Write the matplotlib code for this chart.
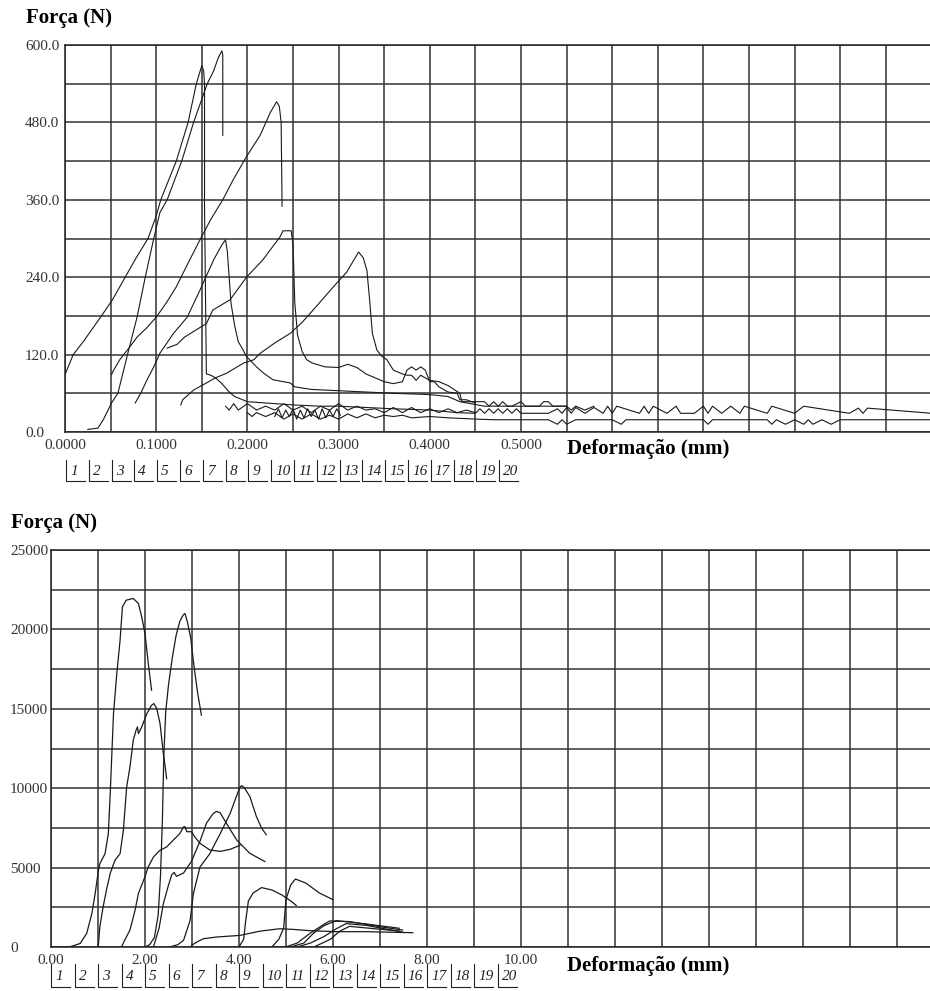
import numpy as np
import matplotlib
matplotlib.use('Agg')
import matplotlib.pyplot as plt
from matplotlib.lines import Line2D

# ---------------- top chart data (Deformação mm, Força N) ----------------
a_x = [0.000, 0.009, 0.020, 0.030, 0.040, 0.052, 0.066, 0.078, 0.091, 0.100, 0.105, 0.122, 0.135,
       0.144, 0.150, 0.152, 0.153, 0.153, 0.155, 0.160, 0.165, 0.172, 0.180, 0.186, 0.200, 0.220,
       0.250, 0.280, 0.300, 0.330, 0.360, 0.400, 0.430]
a_y = [89, 120, 140, 160, 180, 205, 240, 270, 300, 335, 360, 420, 480,
       540, 568, 560, 540, 350, 90, 88, 84, 75, 62, 55, 47, 45,
       42, 40, 40, 38, 36, 34, 30]

b_x = [0.025, 0.036, 0.042, 0.051, 0.058, 0.068, 0.079, 0.088, 0.097, 0.104, 0.112, 0.128, 0.141,
       0.156, 0.163, 0.168, 0.172, 0.173, 0.173]
b_y = [4, 6, 19, 45, 60, 117, 178, 240, 298, 340, 360, 420, 480,
       540, 560, 580, 591, 585, 460]

c_x = [0.051, 0.053, 0.060, 0.070, 0.079, 0.090, 0.100, 0.111, 0.122, 0.135, 0.148, 0.160, 0.173,
       0.184, 0.199, 0.214, 0.225, 0.232, 0.235, 0.237, 0.238]
c_y = [89, 95, 112, 130, 147, 162, 178, 200, 225, 262, 298, 330, 360,
       390, 427, 460, 495, 512, 505, 480, 350]

d_x = [0.077, 0.083, 0.090, 0.097, 0.104, 0.119, 0.134, 0.148, 0.163, 0.172, 0.176, 0.178, 0.180,
       0.182, 0.186, 0.190, 0.195, 0.199, 0.210, 0.218, 0.228, 0.247, 0.252, 0.270, 0.300, 0.330,
       0.360, 0.400, 0.420, 0.433, 0.460, 0.490, 0.500, 0.505, 0.550]
d_y = [45, 60, 81, 100, 122, 153, 178, 220, 267, 290, 298, 280, 240,
       200, 165, 140, 128, 117, 101, 91, 81, 76, 70, 66, 64, 62,
       60, 58, 55, 47, 40, 40, 47, 40, 40]

e_x = [0.127, 0.129, 0.141, 0.155, 0.165, 0.177, 0.196, 0.207, 0.214, 0.230, 0.247, 0.260, 0.272,
       0.285, 0.298, 0.309, 0.316, 0.322, 0.327, 0.331, 0.334, 0.337, 0.342, 0.347, 0.353, 0.360,
       0.370, 0.375, 0.380, 0.385, 0.390, 0.400, 0.410, 0.420, 0.433, 0.435, 0.460, 0.465, 0.470,
       0.475, 0.480, 0.485, 0.490, 0.520, 0.525, 0.530, 0.535, 0.540, 0.550, 0.555, 0.560, 0.570,
       0.580]
e_y = [42, 50, 65, 76, 84, 91, 107, 112, 122, 138, 153, 170, 189,
       210, 231, 248, 265, 279, 270, 251, 205, 153, 127, 118, 112, 96,
       90, 88, 88, 80, 88, 80, 78, 72, 60, 47, 47, 40, 47,
       40, 47, 40, 40, 40, 47, 47, 40, 40, 40, 34, 40, 34,
       40]

f_x = [0.112, 0.123, 0.131, 0.148, 0.155, 0.162, 0.181, 0.199, 0.217, 0.236, 0.239, 0.248, 0.250,
       0.252, 0.255, 0.260, 0.265, 0.271, 0.285, 0.300, 0.310, 0.320, 0.330, 0.350, 0.360, 0.370,
       0.375, 0.380, 0.385, 0.390, 0.395, 0.400, 0.405, 0.410, 0.420, 0.430, 0.433, 0.440, 0.450]
f_y = [130, 136, 147, 162, 168, 189, 205, 240, 267, 303, 312, 312, 290,
       200, 150, 125, 112, 107, 101, 100, 105, 100, 90, 78, 75, 78,
       96, 101, 96, 101, 96, 78, 78, 70, 62, 60, 50, 50, 45]

low1_x = [0.176, 0.180, 0.185, 0.190, 0.200, 0.210, 0.220, 0.230, 0.240, 0.250, 0.260, 0.270, 0.280,
          0.290, 0.300, 0.310, 0.320, 0.330, 0.340, 0.350, 0.360, 0.370, 0.380, 0.390, 0.400, 0.410,
          0.420, 0.430, 0.440, 0.450]
low1_y = [40, 34, 44, 34, 44, 34, 40, 34, 44, 34, 40, 30, 40,
          34, 44, 34, 40, 34, 36, 30, 38, 30, 38, 30, 36, 30,
          36, 30, 34, 30]

# dense noisy stretch near the bottom (black band in the picture)
low2_x = [0.230, 0.234, 0.238, 0.242, 0.246, 0.250, 0.254, 0.258, 0.262, 0.266, 0.270, 0.274, 0.278,
          0.282, 0.286, 0.290, 0.294, 0.298, 0.302]
low2_y = [24, 36, 22, 34, 24, 36, 20, 34, 22, 36, 24, 34, 20, 36, 22, 34, 24, 36, 26]

# long tail, upper (about 29 N)
tail_u_x = [0.430, 0.450, 0.455, 0.460, 0.465, 0.470, 0.475, 0.480, 0.485, 0.490, 0.495, 0.500, 0.530,
            0.540, 0.545, 0.550, 0.555, 0.560, 0.570, 0.580, 0.590, 0.595, 0.600, 0.605, 0.630, 0.635,
            0.640, 0.645, 0.660, 0.670, 0.675, 0.690, 0.700, 0.705, 0.710, 0.720, 0.730, 0.740, 0.745,
            0.770, 0.775, 0.800, 0.810, 0.860, 0.870, 0.875, 0.880, 0.950]
tail_u_y = [30, 29, 36, 29, 36, 29, 36, 29, 36, 29, 36, 29, 29,
            36, 29, 38, 29, 38, 29, 38, 29, 40, 29, 40, 29, 40,
            29, 40, 29, 40, 29, 29, 40, 29, 40, 29, 40, 29, 40,
            29, 40, 29, 40, 29, 37, 29, 37, 29]

# long tail, lower (about 19 N)
tail_l_x = [0.200, 0.205, 0.210, 0.220, 0.230, 0.240, 0.250, 0.260, 0.270, 0.280, 0.290, 0.300, 0.310,
            0.320, 0.330, 0.340, 0.350, 0.360, 0.370, 0.380, 0.400, 0.420, 0.450, 0.470, 0.530, 0.540,
            0.545, 0.550, 0.560, 0.600, 0.610, 0.615, 0.620, 0.700, 0.705, 0.710, 0.770, 0.775, 0.780,
            0.790, 0.800, 0.810, 0.815, 0.820, 0.830, 0.840, 0.850, 0.950]
tail_l_y = [30, 24, 30, 24, 30, 20, 28, 20, 28, 20, 26, 20, 28,
            22, 28, 22, 26, 24, 26, 22, 24, 22, 20, 19, 19, 12,
            19, 12, 19, 19, 12, 19, 19, 19, 12, 19, 19, 12, 19,
            12, 19, 12, 19, 12, 19, 12, 19, 19]

top_series = [(a_x, a_y), (b_x, b_y), (c_x, c_y), (d_x, d_y), (e_x, e_y), (f_x, f_y),
              (low1_x, low1_y), (low2_x, low2_y), (tail_u_x, tail_u_y), (tail_l_x, tail_l_y)]

top_yticks = [0, 120, 240, 360, 480, 600]
top_ylabels = ['0.0', '120.0', '240.0', '360.0', '480.0', '600.0']
top_xticks = [0.0, 0.1, 0.2, 0.3, 0.4, 0.5]
top_xlabels = ['0.0000', '0.1000', '0.2000', '0.3000', '0.4000', '0.5000']

# ---------------- bottom chart data ----------------
p1_x = [0.0, 0.41, 0.62, 0.76, 0.87, 0.94, 1.01, 1.04, 1.15, 1.22, 1.26, 1.33, 1.40, 1.47, 1.52,
        1.60, 1.75, 1.86, 1.93, 2.00, 2.07, 2.14]
p1_y = [0, 20, 220, 860, 2120, 3380, 4850, 5250, 5880, 7140, 9660, 14700, 17220, 19320, 21420,
        21840, 21950, 21630, 20790, 19740, 17850, 16170]

p2_x = [1.0, 1.01, 1.04, 1.11, 1.18, 1.26, 1.36, 1.47, 1.54, 1.61, 1.68, 1.75, 1.81, 1.84, 1.86,
        1.93, 2.04, 2.14, 2.19, 2.25, 2.32, 2.39, 2.43, 2.46]
p2_y = [0, 200, 1280, 2540, 3590, 4640, 5460, 5880, 7350, 10080, 11340, 13020, 13650, 13860, 13440,
        13860, 14700, 15225, 15330, 15015, 14070, 12180, 11340, 10600]

p3_x = [1.50, 1.57, 1.68, 1.79, 1.86, 1.93, 2.00, 2.07, 2.18, 2.32, 2.46, 2.60, 2.74, 2.82, 2.85,
        2.89, 2.99, 3.06, 3.17, 3.38, 3.60, 3.81, 4.02]
p3_y = [0, 440, 1070, 2330, 3380, 3900, 4430, 5050, 5670, 6090, 6300, 6720, 7140, 7560, 7580,
        7260, 7260, 6930, 6530, 6110, 6020, 6150, 6400]

p4_x = [2.0, 2.1, 2.2, 2.28, 2.33, 2.37, 2.40, 2.44, 2.50, 2.58, 2.66, 2.74, 2.81, 2.85, 2.90,
        2.97, 3.05, 3.12, 3.20]
p4_y = [0, 150, 600, 2000, 4500, 8000, 12000, 14800, 16500, 18200, 19600, 20500, 20900, 21000, 20500,
        19500, 17500, 16000, 14600]

p5_x = [2.18, 2.30, 2.39, 2.50, 2.57, 2.62, 2.67, 2.82, 2.99, 3.17, 3.31, 3.45, 3.52, 3.60, 3.73,
        3.95, 4.23, 4.55]
p5_y = [0, 1200, 2720, 3900, 4550, 4700, 4450, 4660, 5400, 6660, 7810, 8400, 8540, 8450, 7800,
        6740, 5900, 5380]

p6_x = [2.53, 2.70, 2.82, 2.96, 3.03, 3.17, 3.38, 3.60, 3.81, 4.02, 4.06, 4.12, 4.23, 4.37, 4.48,
        4.58]
p6_y = [0, 150, 420, 1680, 3360, 5040, 5880, 7140, 8400, 10080, 10160, 10000, 9480, 8220, 7490,
        7070]

p7_x = [2.99, 3.10, 3.24, 3.53, 4.02, 4.45, 4.87, 5.15, 5.50, 6.07, 6.71, 7.70]
p7_y = [100, 310, 520, 630, 730, 1000, 1150, 1110, 1030, 965, 965, 900]

p8_x = [4.00, 4.10, 4.14, 4.20, 4.30, 4.48, 4.70, 4.91, 5.12, 5.22]
p8_y = [0, 500, 1600, 2900, 3400, 3740, 3590, 3280, 2860, 2610]

p9_x = [4.70, 4.85, 4.95, 5.00, 5.10, 5.20, 5.42, 5.71, 6.00]
p9_y = [0, 500, 1200, 3000, 3900, 4280, 4030, 3400, 2980]

p10_x = [4.99, 5.24, 5.52, 5.74, 5.93, 6.35, 6.99, 7.48]
p10_y = [0, 250, 880, 1300, 1640, 1600, 1280, 1070]

p11_x = [5.10, 5.38, 5.59, 5.81, 6.07, 6.71, 7.41]
p11_y = [0, 250, 880, 1350, 1660, 1450, 1180]

p12_x = [5.24, 5.52, 5.81, 6.07, 6.28, 6.71, 7.48]
p12_y = [0, 250, 660, 1150, 1470, 1360, 940]

p13_x = [5.59, 5.74, 5.95, 6.14, 6.35, 7.07, 7.41]
p13_y = [0, 200, 500, 990, 1300, 1100, 1000]

bottom_series = [(p1_x, p1_y), (p2_x, p2_y), (p3_x, p3_y), (p4_x, p4_y), (p5_x, p5_y),
                 (p6_x, p6_y), (p7_x, p7_y), (p8_x, p8_y), (p9_x, p9_y), (p10_x, p10_y),
                 (p11_x, p11_y), (p12_x, p12_y), (p13_x, p13_y)]

bot_yticks = [0, 5000, 10000, 15000, 20000, 25000]
bot_ylabels = ['0', '5000', '10000', '15000', '20000', '25000']
bot_xticks = [0, 2, 4, 6, 8, 10]
bot_xlabels = ['0.00', '2.00', '4.00', '6.00', '8.00', '10.00']

legend_labels = [str(i) for i in range(1, 21)]

# ---------------- drawing ----------------
W, H = 930, 991
plt.rcParams['font.family'] = ['Liberation Serif', 'DejaVu Serif']
fig = plt.figure(figsize=(W / 100, H / 100), dpi=100)


def fx(px):
    return px / W


def fy(py):
    return 1 - py / H


def panel(left, top, bottom, xmax, ymax, xgrid, ygrid, xt, xl, yt, yl, label_left, xpad):
    ax = fig.add_axes([fx(left), fy(bottom), (W - left) / W, (bottom - top) / H])
    ax.set_xlim(0, xmax)
    ax.set_ylim(0, ymax)
    ax.set_xticks(xt)
    ax.set_xticklabels(xl)
    ax.set_yticks(yt)
    ax.set_yticklabels(yl)
    ax.set_xticks(xgrid, minor=True)
    ax.set_yticks(ygrid, minor=True)
    ax.tick_params(which='both', length=0, labelsize=11, labelcolor='#333333')
    ax.tick_params(axis='y', pad=(left - label_left) * 0.72)
    ax.tick_params(axis='x', pad=xpad)
    for lbl in ax.get_yticklabels():
        lbl.set_horizontalalignment('left')
    ax.grid(which='both', color='#333333', lw=1.1)
    ax.spines['right'].set_visible(False)
    for s in ['left', 'bottom', 'top']:
        ax.spines[s].set_color('#222222')
        ax.spines[s].set_linewidth(1.1)
    ax.set_axisbelow(True)
    return ax


def legend_row(x0, dx, ytop, ybot):
    for i, lab in enumerate(legend_labels):
        x = x0 + dx * i
        fig.add_artist(Line2D([fx(x), fx(x), fx(x + 19)], [fy(ytop), fy(ybot), fy(ybot)],
                              color='#222222', lw=0.8))
        fig.text(fx(x + 4), fy((ytop + ybot) / 2 + 1), lab, fontsize=11, style='italic',
                 ha='left', va='center', color='#222222')


# top chart
ax1 = panel(65, 45, 432, 865 / 912, 600, np.arange(0, 0.95, 0.05), np.arange(0, 601, 60),
            top_xticks, top_xlabels, top_yticks, top_ylabels, 25, 5)
for xs, ys in top_series:
    ax1.plot(xs, ys, color='#1a1a1a', lw=0.8)
fig.text(fx(26), fy(18), 'Força (N)', fontsize=15, fontweight='bold', ha='left', va='center')
fig.text(fx(567), fy(449), 'Deformação (mm)', fontsize=15, fontweight='bold', ha='left', va='center')
legend_row(66, 22.8, 460, 481)

# bottom chart
ax2 = panel(51, 550, 947, 879 / 47, 25000, np.arange(0, 19, 1), np.arange(0, 25001, 2500),
            bot_xticks, bot_xlabels, bot_yticks, bot_ylabels, 10, 5)
for xs, ys in bottom_series:
    ax2.plot(xs, ys, color='#1a1a1a', lw=0.9)
fig.text(fx(11), fy(523), 'Força (N)', fontsize=15, fontweight='bold', ha='left', va='center')
fig.text(fx(567), fy(966), 'Deformação (mm)', fontsize=15, fontweight='bold', ha='left', va='center')
legend_row(51, 23.5, 964, 987)

plt.savefig('out.png', dpi=100)
